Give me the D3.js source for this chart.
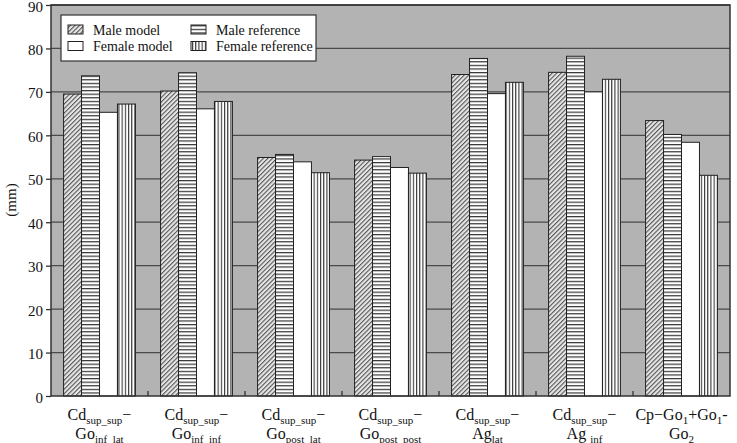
<!DOCTYPE html>
<html><head><meta charset="utf-8">
<script src="https://cdn.jsdelivr.net/npm/d3@7"></script>
<style>body{margin:0;background:#fff}svg{display:block}text{font-family:"Liberation Serif","Times New Roman",serif;fill:#111}</style>
</head><body><svg id="c" width="737" height="443"></svg>
<script>
// Category labels: each line is a list of [text, isSubscript]
const categories = [
  [[["Cd",0],["sup_sup",1],["\u2212",0]],[["Go",0],["inf  lat",1]]],
  [[["Cd",0],["sup_sup",1],["\u2212",0]],[["Go",0],["inf  inf",1]]],
  [[["Cd",0],["sup_sup",1],["\u2212",0]],[["Go",0],["post  lat",1]]],
  [[["Cd",0],["sup_sup",1],["\u2212",0]],[["Go",0],["post  post",1]]],
  [[["Cd",0],["sup_sup",1],["\u2212",0]],[["Ag",0],["lat",1]]],
  [[["Cd",0],["sup_sup",1],["\u2212",0]],[["Ag ",0],["inf",1]]],
  [[["Cp\u2212Go",0],["1",1],["+Go",0],["1",1],["-",0]],[["Go",0],["2",1]]]
];
const seriesNames = ["Male model","Male reference","Female model","Female reference"];
const maleModel       = [69.5, 70.2, 54.9, 54.3, 74.0, 74.5, 63.4];
const maleReference   = [73.7, 74.4, 55.6, 55.1, 77.7, 78.2, 60.2];
const femaleModel     = [65.3, 66.1, 53.9, 52.6, 69.6, 70.0, 58.4];
const femaleReference = [67.2, 67.8, 51.4, 51.3, 72.2, 72.9, 50.8];
const yTicks = [0,10,20,30,40,50,60,70,80,90];
const yLabel = "(mm)";

const series = [maleModel, maleReference, femaleModel, femaleReference];
const svg = d3.select("#c");
const L=51, R=730, T=5, B=396;

// patterns
const defs = svg.append("defs");
const pDiag = defs.append("pattern").attr("id","pDiag").attr("patternUnits","userSpaceOnUse")
  .attr("width",3.2).attr("height",3.2).attr("patternTransform","rotate(45)");
pDiag.append("rect").attr("width",3.2).attr("height",3.2).attr("fill","#e6e6e6");
pDiag.append("rect").attr("width",1.1).attr("height",3.2).attr("fill","#555");
const pHor = defs.append("pattern").attr("id","pHor").attr("patternUnits","userSpaceOnUse")
  .attr("width",4).attr("height",3.6);
pHor.append("rect").attr("width",4).attr("height",3.6).attr("fill","#fff");
pHor.append("rect").attr("width",4).attr("height",1.2).attr("fill","#333");
const pVer = defs.append("pattern").attr("id","pVer").attr("patternUnits","userSpaceOnUse")
  .attr("width",3.2).attr("height",4);
pVer.append("rect").attr("width",3.2).attr("height",4).attr("fill","#fff");
pVer.append("rect").attr("width",1.1).attr("height",4).attr("fill","#333");
const fills = ["url(#pDiag)","url(#pHor)","#fff","url(#pVer)"];

const x0 = d3.scaleBand().domain(d3.range(categories.length)).range([L,R]).paddingInner(0).paddingOuter(0);
const x1 = d3.scaleBand().domain(d3.range(series.length)).range([0,x0.bandwidth()]).paddingOuter(0.7);
const y = d3.scaleLinear().domain([0,90]).range([B,T]);

svg.append("rect").attr("x",L).attr("y",T).attr("width",R-L).attr("height",B-T).attr("fill","#b3b3b3");

// gridlines
svg.append("g").selectAll("line").data(yTicks.slice(1)).join("line")
  .attr("x1",L).attr("x2",R).attr("y1",d=>y(d)).attr("y2",d=>y(d))
  .attr("stroke","#4a4a4a").attr("stroke-width",1.3);

// bars
const g = svg.append("g");
categories.forEach((c,i)=>{
  series.forEach((s,j)=>{
    g.append("rect").attr("x",x0(i)+x1(j)).attr("width",x1.bandwidth())
      .attr("y",y(s[i])).attr("height",B-y(s[i]))
      .attr("fill",fills[j]).attr("stroke","#222").attr("stroke-width",1);
  });
});

// frame
svg.append("rect").attr("x",L).attr("y",T).attr("width",R-L).attr("height",B-T)
  .attr("fill","none").attr("stroke","#333").attr("stroke-width",1.5);

// y axis
const ya = svg.append("g").attr("transform",`translate(${L},0)`)
  .call(d3.axisLeft(y).tickValues(yTicks).tickSize(5).tickPadding(3));
ya.select(".domain").remove();
ya.selectAll("line").attr("stroke","#333").attr("stroke-width",1.3);
ya.selectAll("text").attr("font-size",15).attr("fill","#111").attr("dy","0.4em");

// x axis inner ticks at band boundaries
svg.append("g").selectAll("line").data(d3.range(1,categories.length)).join("line")
  .attr("x1",d=>x0(d)).attr("x2",d=>x0(d)).attr("y1",B).attr("y2",B-5)
  .attr("stroke","#333").attr("stroke-width",1.3);

// x labels
categories.forEach((c,i)=>{
  const cx = x0(i)+x0.bandwidth()/2;
  c.forEach((line,k)=>{
    const t = svg.append("text").attr("x",cx).attr("y",420+k*18.5).attr("text-anchor","middle")
      .attr("font-size",16).attr("xml:space","preserve");
    let prevSub = false;
    line.forEach(([txt,sub])=>{
      const ts = t.append("tspan").text(txt);
      if(sub){ ts.attr("font-size",11).attr("dy",prevSub?0:4); }
      else if(prevSub){ ts.attr("dy",-4); }
      prevSub = !!sub;
    });
  });
});

// y label
svg.append("text").attr("transform","translate(16,200) rotate(-90)").attr("text-anchor","middle")
  .attr("font-size",15).text(yLabel);

// legend
const lg = svg.append("g");
lg.append("rect").attr("x",61).attr("y",15).attr("width",255).attr("height",46)
  .attr("fill","#fff").attr("stroke","#333").attr("stroke-width",1.2);
const pos = [[68,25],[191,25],[68,41.5],[191,41.5]];
seriesNames.forEach((n,j)=>{
  lg.append("rect").attr("x",pos[j][0]).attr("y",pos[j][1]).attr("width",15).attr("height",9)
    .attr("fill",fills[j]).attr("stroke","#222").attr("stroke-width",1);
  lg.append("text").attr("x",pos[j][0]+25).attr("y",pos[j][1]+9.5).attr("font-size",14).text(n);
});
</script></body></html>
